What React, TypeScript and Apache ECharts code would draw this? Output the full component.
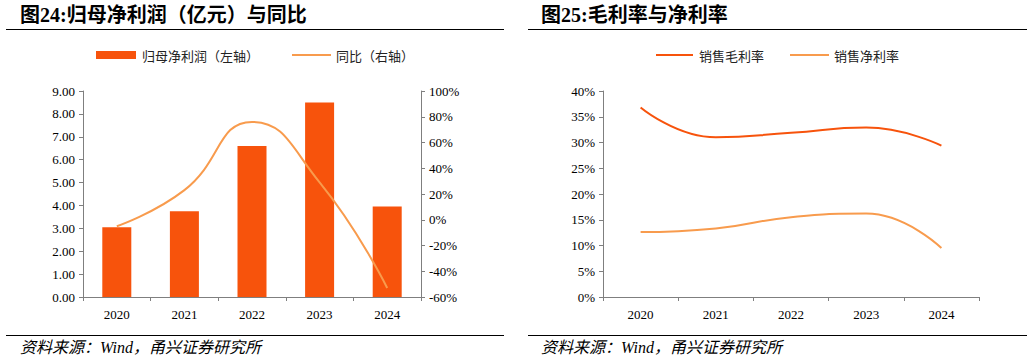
import React, { useEffect, useRef } from "react";
import * as echarts from "echarts";

const years = ["2020", "2021", "2022", "2023", "2024"];
const netProfit = [3.05, 3.75, 6.6, 8.5, 3.95];
const yoy = [-5, 23, 76, 29, -53];
const grossMargin = [36.8, 31.0, 31.9, 32.9, 29.4];
const netMargin = [12.6, 13.3, 15.5, 16.2, 9.5];

const serif = "'Liberation Serif', 'Noto Sans CJK SC', serif";
const cjk = "'Noto Sans CJK SC', sans-serif";
const RED = "#F7530C";
const LIGHT = "#F89B4D";
const AXIS = "#7f7f7f";

export default function App() {
  const ref = useRef<HTMLDivElement>(null);
  useEffect(() => {
    if (!ref.current) return;
    const chart = echarts.init(ref.current, null, { renderer: "svg" });
    const axisLabel = { color: "#000", fontFamily: serif, fontSize: 13 };
    const axisLine = { show: true, lineStyle: { color: AXIS, width: 1 } };
    const axisTick = { show: true, length: 4, lineStyle: { color: AXIS } };
    const legendText = (x: number, text: string) => ({
      type: "text",
      x,
      y: 55,
      style: {
        text,
        font: `13px ${cjk}`,
        fill: "#222",
        verticalAlign: "middle",
      },
    });
    const hline = (x1: number, x2: number, y: number, color: string, w: number) => ({
      type: "line",
      shape: { x1, y1: y, x2, y2: y },
      style: { stroke: color, lineWidth: w },
    });
    chart.setOption({
      animation: false,
      backgroundColor: "#fff",
      grid: [
        { left: 83, right: 611, top: 91, bottom: 66 },
        { left: 603, right: 53, top: 91, bottom: 66 },
      ],
      xAxis: [
        {
          type: "category",
          gridIndex: 0,
          data: years,
          axisLine,
          axisTick,
          axisLabel: { ...axisLabel, margin: 11 },
        },
        {
          type: "category",
          gridIndex: 1,
          data: years,
          axisLine,
          axisTick,
          axisLabel: { ...axisLabel, margin: 11 },
        },
      ],
      yAxis: [
        {
          type: "value",
          gridIndex: 0,
          min: 0,
          max: 9,
          interval: 1,
          splitLine: { show: false },
          axisLine,
          axisTick,
          axisLabel: { ...axisLabel, formatter: (v: number) => v.toFixed(2) },
        },
        {
          type: "value",
          gridIndex: 0,
          position: "right",
          min: -60,
          max: 100,
          interval: 20,
          splitLine: { show: false },
          axisLine,
          axisTick,
          axisLabel: { ...axisLabel, formatter: (v: number) => v + "%" },
        },
        {
          type: "value",
          gridIndex: 1,
          min: 0,
          max: 40,
          interval: 5,
          splitLine: { show: false },
          axisLine,
          axisTick,
          axisLabel: { ...axisLabel, formatter: (v: number) => v + "%" },
        },
      ],
      series: [
        {
          name: "归母净利润（左轴）",
          type: "bar",
          xAxisIndex: 0,
          yAxisIndex: 0,
          data: netProfit,
          barWidth: 29,
          itemStyle: { color: RED },
        },
        {
          name: "同比（右轴）",
          type: "line",
          xAxisIndex: 0,
          yAxisIndex: 1,
          data: yoy,
          smooth: 0.5,
          symbol: "none",
          lineStyle: { color: LIGHT, width: 2 },
          itemStyle: { color: LIGHT },
        },
        {
          name: "销售毛利率",
          type: "line",
          xAxisIndex: 1,
          yAxisIndex: 2,
          data: grossMargin,
          smooth: 0.5,
          symbol: "none",
          lineStyle: { color: RED, width: 2 },
          itemStyle: { color: RED },
        },
        {
          name: "销售净利率",
          type: "line",
          xAxisIndex: 1,
          yAxisIndex: 2,
          data: netMargin,
          smooth: 0.5,
          symbol: "none",
          lineStyle: { color: LIGHT, width: 2 },
          itemStyle: { color: LIGHT },
        },
      ],
      graphic: [
        {
          type: "text",
          left: 20,
          top: 5,
          style: {
            text: "图24:归母净利润（亿元）与同比",
            font: `bold 20px ${serif}`,
            fill: "#000",
          },
        },
        {
          type: "text",
          left: 541,
          top: 5,
          style: {
            text: "图25:毛利率与净利率",
            font: `bold 20px ${serif}`,
            fill: "#000",
          },
        },
        hline(6, 504, 29.5, "#000", 1),
        hline(528, 1027, 29.5, "#000", 1),
        hline(6, 504, 335.5, "#000", 1),
        hline(528, 1027, 335.5, "#000", 1),
        {
          type: "rect",
          shape: { x: 96, y: 51, width: 40, height: 8 },
          style: { fill: RED },
        },
        legendText(142, "归母净利润（左轴）"),
        hline(292, 331, 55, LIGHT, 2),
        legendText(336, "同比（右轴）"),
        hline(656, 693, 55, RED, 2),
        legendText(699, "销售毛利率"),
        hline(790, 829, 55, LIGHT, 2),
        legendText(834, "销售净利率"),
        {
          type: "text",
          left: 20,
          top: 339,
          style: {
            text: "资料来源：Wind，甬兴证券研究所",
            font: `italic 16px ${serif}`,
            fill: "#000",
          },
        },
        {
          type: "text",
          left: 541,
          top: 339,
          style: {
            text: "资料来源：Wind，甬兴证券研究所",
            font: `italic 16px ${serif}`,
            fill: "#000",
          },
        },
      ],
    });
    return () => chart.dispose();
  }, []);
  return (
    <div
      ref={ref}
      style={{ position: "fixed", left: 0, top: 0, width: 1032, height: 363 }}
    />
  );
}
